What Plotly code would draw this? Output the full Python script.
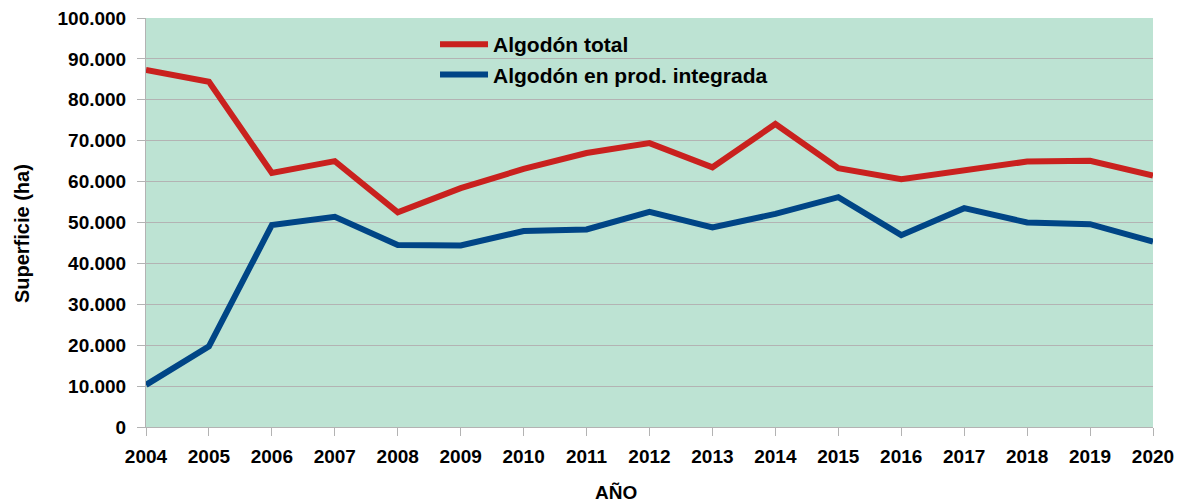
import plotly.graph_objects as go

years = list(range(2004, 2021))
algodon_total = [87300, 84400, 62100, 65000, 52500, 58400, 63100, 67000, 69400,
                 63500, 74100, 63300, 60600, 62700, 64900, 65100, 61500]
algodon_pi = [10300, 19700, 49400, 51400, 44500, 44400, 47900, 48300, 52600,
              48800, 52100, 56200, 46900, 53500, 50000, 49600, 45300]

font_family = "Liberation Sans, Arial, sans-serif"
fs = 19

fig = go.Figure()
fig.add_trace(go.Scatter(x=years, y=algodon_total, mode="lines", name="<b>Algodón total</b>",
                         line=dict(color="#C9211E", width=6)))
fig.add_trace(go.Scatter(x=years, y=algodon_pi, mode="lines", name="<b>Algodón en prod. integrada</b>",
                         line=dict(color="#004586", width=6)))

fig.update_layout(
    width=1178, height=503,
    margin=dict(l=146, r=25, t=18, b=76),
    paper_bgcolor="white",
    plot_bgcolor="#BDE3D3",
    separators=",.",
    font=dict(family=font_family, size=fs, color="black"),
    showlegend=True,
    legend=dict(x=0.287, y=0.985, xanchor="left", yanchor="top",
                bgcolor="rgba(0,0,0,0)", font=dict(size=21, family=font_family),
                tracegroupgap=0, itemwidth=48),
    annotations=[
        dict(text="<b>AÑO</b>", xref="paper", yref="paper", x=0.4667, y=-0.159,
             xanchor="center", yanchor="middle", showarrow=False, font=dict(size=fs)),
        dict(text="<b>Superficie (ha)</b>", xref="paper", yref="paper", x=-0.123, y=0.472,
             xanchor="center", yanchor="middle", textangle=-90, showarrow=False,
             font=dict(size=20)),
    ],
)
fig.update_xaxes(
    range=[2004, 2020], tickmode="array", tickvals=years,
    ticktext=[f"<b>{y}</b>" for y in years],
    showgrid=False, showline=True, linecolor="#b3b3b3", linewidth=1,
    ticks="outside", ticklen=8, tickcolor="#b3b3b3", ticklabelstandoff=4,
    zeroline=False, automargin=False,
)
fig.update_yaxes(
    range=[0, 100000], tickvals=list(range(0, 100001, 10000)),
    ticktext=["<b>0</b>"] + [f"<b>{v//1000}.000</b>" for v in range(10000, 100001, 10000)],
    showgrid=True, gridcolor="#b3b3b3", gridwidth=1,
    showline=True, linecolor="#b3b3b3", linewidth=1,
    ticks="outside", ticklen=8, tickcolor="#b3b3b3", ticklabelstandoff=7,
    zeroline=False, automargin=False,
)

fig.write_html("out.html", config={"displayModeBar": False},
               post_script="document.body.style.margin='0';")
